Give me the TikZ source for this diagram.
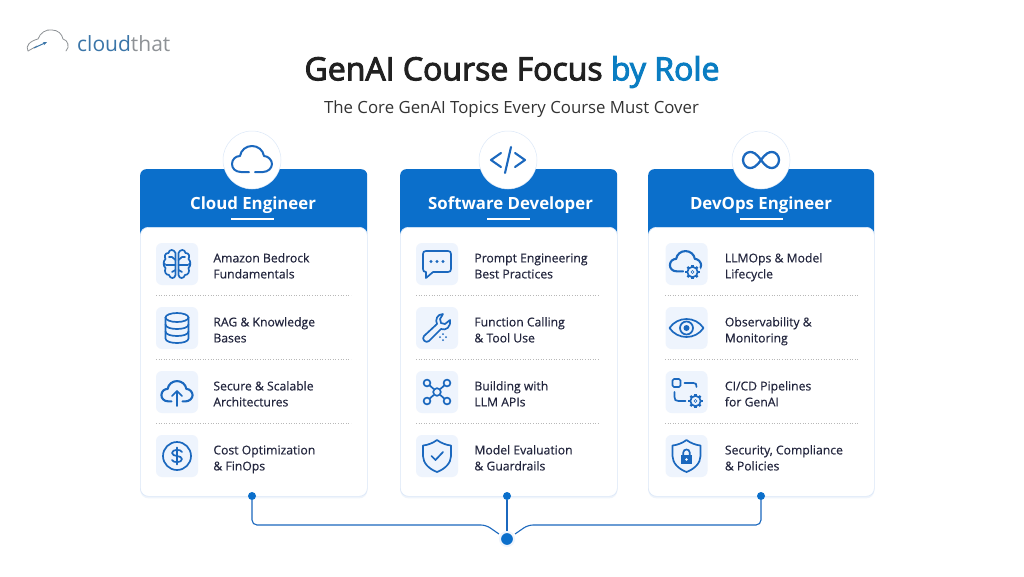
\documentclass[tikz,border=0pt]{standalone}
\usepackage{fontspec}
\usepackage{xcolor}
\usetikzlibrary{positioning,shadows,arrows.meta}
\setmainfont{Open Sans}
\newfontfamily\semifont[FakeBold=3]{Open Sans}
\newfontfamily\medfont[FakeBold=0.4]{Open Sans}

\definecolor{headblue}{HTML}{0B6FCB}
\definecolor{iconblue}{HTML}{1B68BE}
\definecolor{titleblue}{HTML}{0A7DC2}
\definecolor{tilefill}{HTML}{EEF4FD}
\definecolor{inktext}{HTML}{23263E}
\definecolor{cardedge}{HTML}{DCE8F8}
\definecolor{logoblue}{HTML}{3A75A8}
\definecolor{logogray}{HTML}{8E9296}

\newcommand{\cloudpath}[1]{(-#1,12) -- (-11,12) .. controls (-17,12) and (-20,8) .. (-20,4) .. controls (-20,-1) and (-16,-4) .. (-12,-4) .. controls (-11,-10) and (-6,-14) .. (0,-14) .. controls (6,-14) and (11,-10) .. (12,-4) .. controls (16,-4) and (20,0) .. (20,4) .. controls (20,8) and (16,12) .. (11,12) -- (#1,12)}

\tikzset{
  iconline/.style = {draw=iconblue, line width=1.7pt, line cap=round, line join=round},
  cloudicon/.pic = {\draw[iconline, line width=2pt] \cloudpath{3};},
  codeicon/.pic = {
    \draw[iconline, line width=2.1pt] (-7,-7) -- (-17,0) -- (-7,7) (7,-7) -- (17,0) -- (7,7) (3,-13) -- (-3,13);
  },
  loopicon/.pic = {
    \draw[iconline, line width=2.3pt] (0,0) .. controls (-5,-7) and (-8,-8) .. (-11,-8) .. controls (-15,-8) and (-18,-4) .. (-18,0)
      .. controls (-18,4) and (-15,8) .. (-11,8) .. controls (-8,8) and (-5,7) .. (0,0)
      .. controls (5,-7) and (8,-8) .. (11,-8) .. controls (15,-8) and (18,-4) .. (18,0)
      .. controls (18,4) and (15,8) .. (11,8) .. controls (8,8) and (5,7) .. (0,0);
  },
  brainicon/.pic = {
    \foreach \sgn in {-1,1} {
      \begin{scope}[xscale=\sgn]
        \draw[iconline] (1.5,-11) .. controls (3,-15) and (8,-15) .. (8.5,-11) .. controls (12,-11) and (13,-8) .. (11.5,-5)
          .. controls (14,-3) and (14,2) .. (11.5,4) .. controls (13,8) and (11,11) .. (8,11) .. controls (7,15) and (2,15) .. (1.5,11) -- cycle;
        \draw[iconline] (1.5,-4) -- (5,-7) -- (8,-7) (1.5,1) -- (11,1) (1.5,6) -- (5,8);
        \fill[iconblue] (12.5,0) circle (1.5);
      \end{scope}
    }
  },
  dbicon/.pic = {
    \draw[iconline] (0,-10.5) ellipse (11.5 and 4.5);
    \draw[iconline] (-11.5,-10.5) -- (-11.5,10.5) .. controls (-11.5,16.5) and (11.5,16.5) .. (11.5,10.5) -- (11.5,-10.5);
    \draw[iconline] (-11.5,-3.5) .. controls (-11.5,2.5) and (11.5,2.5) .. (11.5,-3.5);
    \draw[iconline] (-11.5,3.5) .. controls (-11.5,9.5) and (11.5,9.5) .. (11.5,3.5);
  },
  uploadicon/.pic = {
    \begin{scope}[scale=.78]
      \draw[iconline, line width=2.1pt] \cloudpath{7};
    \end{scope}
    \draw[iconline] (0,14) -- (0,-1) (-5,4) -- (0,-1) -- (5,4);
  },
  dollaricon/.pic = {
    \draw[iconline] (0,0) circle (14);
    \draw[iconline] (5,-4) .. controls (4,-7) and (-5,-7) .. (-5,-3) .. controls (-5,1) and (5,-1) .. (5,3) .. controls (5,7) and (-4,7) .. (-5,4);
    \draw[iconline] (0,-8.5) -- (0,8.5);
  },
  chaticon/.pic = {
    \draw[iconline] (-11,-13) -- (11,-13) .. controls (13,-13) and (14,-12) .. (14,-10) -- (14,5) .. controls (14,7) and (13,8) .. (11,8)
      -- (-4,8) -- (-11,14) -- (-11,8) .. controls (-13,8) and (-14,7) .. (-14,5) -- (-14,-10) .. controls (-14,-12) and (-13,-13) .. (-11,-13) -- cycle;
    \foreach \dotx in {-6,0,6} { \fill[iconblue] (\dotx,-2.5) circle (1.7); }
  },
  wrenchicon/.pic = {
    \draw[iconline] (6,-14) .. controls (0,-14) and (-2,-8) .. (0,-4) -- (-13,8) .. controls (-16,11) and (-11,16) .. (-8,13)
      -- (4,1) .. controls (9,3) and (14,-1) .. (13,-8) -- (8,-4) -- (4,-5) -- (3,-9) -- cycle;
    \foreach \spx/\spy in {6/6,6/12,3/9,9/9} { \fill[iconblue] (\spx,\spy) circle (1); }
  },
  neticon/.pic = {
    \foreach \spx/\spy in {-10/-9,10/-9,-10/9,10/9} {
      \draw[iconline] (\spx,\spy) circle (3.4);
      \draw[iconline] (\spx*.72,\spy*.72) -- (\spx*.35,\spy*.35);
    }
    \draw[iconline] (0,0) circle (3.8);
  },
  shieldpath/.pic = {
    \draw[iconline] (0,-16) .. controls (-4,-13) and (-9,-11) .. (-14,-10.5) -- (-14,0) .. controls (-14,7) and (-8,13) .. (0,16)
      .. controls (8,13) and (14,7) .. (14,0) -- (14,-10.5) .. controls (9,-11) and (4,-13) .. (0,-16) -- cycle;
  },
  shieldicon/.pic = {
    \pic at (0,0) {shieldpath};
    \draw[iconline] (-5.5,0) -- (-1.5,4) -- (6,-4);
  },
  gearicon/.pic = {
    \fill[tilefill] (0,0) circle (8.5);
    \foreach \ang in {0,45,...,315} { \draw[iconblue, line width=2.4pt] (\ang:4.5) -- (\ang:7.2); }
    \draw[iconline] (0,0) circle (5.2);
    \fill[iconblue] (0,0) circle (1.8);
    \fill[tilefill] (0,0) circle (.8);
  },
  opsicon/.pic = {
    \begin{scope}[xshift=-1pt, yshift=2pt, scale=.78]
      \draw[iconline, line width=2.1pt] \cloudpath{3};
    \end{scope}
    \pic at (6,8) {gearicon};
  },
  eyeicon/.pic = {
    \draw[iconline] (-17,0) .. controls (-9,-12) and (9,-12) .. (17,0) .. controls (9,12) and (-9,12) .. (-17,0) -- cycle;
    \draw[iconline] (0,0) circle (6.5);
    \fill[iconblue] (0,0) circle (3);
  },
  pipeicon/.pic = {
    \draw[iconline, rounded corners=1.5pt] (-14,-13) rectangle (-6,-5);
    \draw[iconline] (-2,-9) -- (7,-9) .. controls (9.5,-9) and (10,-8) .. (10,-5);
    \draw[iconline] (-12,0) -- (-12,5) .. controls (-12,8) and (-11,9) .. (-8,9) -- (-1,9);
    \pic at (9,9) {gearicon};
  },
  lockicon/.pic = {
    \begin{scope}[scale=.93]
      \pic at (0,0) {shieldpath};
    \end{scope}
    \fill[iconblue] (-5.5,-1) rectangle (5.5,8);
    \draw[iconline] (-3.2,-1) -- (-3.2,-3.5) .. controls (-3.2,-7.5) and (3.2,-7.5) .. (3.2,-3.5) -- (3.2,-1);
    \fill[white] (0,3.5) circle (1.4);
  },
}

% one row of a card: name, tile centre, icon, text
\newcommand{\itemrow}[5]{
  \node[tile] (#1) at (#2,#3) {};
  \pic at (#1) {#4};
  \node[itemtext, right=\textgap of #1, yshift=-3.2pt] (#1text) {\strut #5\strut};
}

\begin{document}
\begin{tikzpicture}[
    x=1pt, y=-1pt,
    cardhead/.style = {fill=headblue, rounded corners=6pt, anchor=north west, minimum height=70pt, inner sep=0},
    cardbody/.style = {fill=white, draw=cardedge, line width=.7pt, rounded corners=8pt, anchor=north west, minimum height=269pt, inner sep=0,
      drop shadow={shadow xshift=0pt, shadow yshift=-2pt, fill=cardedge, opacity=.45}},
    badge/.style = {circle, fill=white, draw=cardedge, line width=.5pt, minimum size=58pt, inner sep=0},
    headtext/.style = {text=white, font=\fontsize{16.8}{18}\selectfont\bfseries, inner sep=0},
    headbar/.style = {draw=white, line width=1.2pt},
    tile/.style = {fill=tilefill, rounded corners=6pt, minimum size=42pt, inner sep=0},
    itemtext/.style = {text=inktext, align=left, inner sep=0, font=\fontsize{12.2}{16}\medfont},
    rowline/.style = {draw=black!28, line width=.6pt, dotted},
    enddot/.style = {circle, fill=headblue, minimum size=8pt, inner sep=0},
    hubdot/.style = {circle, fill=headblue, draw=tilefill, line width=2pt, minimum size=14pt, inner sep=0},
    link/.style = {draw=iconblue, line width=1.1pt, rounded corners=5pt},
  ]

  \path[use as bounding box, fill=white!99!tilefill] (0,0) rectangle (1024,576);

  % logo
  \draw[logogray, line width=.8pt, line cap=round] (28,51) .. controls (25,46) and (30,41) .. (38,39)
    .. controls (40,33) and (46,29) .. (52,30) .. controls (58,30) and (62,34) .. (63,39) .. controls (68,40) and (70,47) .. (66,51);
  \draw[logogray, line width=.8pt] (28,51) -- (37,46);
  \draw[logoblue, line width=1pt, -{Stealth[length=4pt]}] (34,48) -- (47,42);
  \node[inner sep=0, anchor=west, font=\fontsize{21}{22}\selectfont] (logo) at (77,44) {\textcolor{logoblue}{cloud}\textcolor{logogray}{that}};

  % title
  \node[inner sep=0, font=\fontsize{32}{34}\semifont, text=black!87] (title) at (512,72) {GenAI Course Focus \textcolor{titleblue}{by Role}};
  \node[inner sep=0, font=\fontsize{16.8}{20}\selectfont, text=black!80] (subtitle) at (511.5,109) {The Core GenAI Topics Every Course Must Cover};

  % cards
  \node[cardhead, minimum width=227pt] (headA) at (140,169) {};
  \node[cardhead, minimum width=217pt] (headB) at (400,169) {};
  \node[cardhead, minimum width=226pt] (headC) at (648,169) {};
  \node[cardbody, minimum width=227pt] (bodyA) at (140,227) {};
  \node[cardbody, minimum width=217pt] (bodyB) at (400,227) {};
  \node[cardbody, minimum width=226pt] (bodyC) at (648,227) {};

  \node[badge] (badgeA) at (252,160) {};
  \node[badge] (badgeB) at (508,160) {};
  \node[badge] (badgeC) at (761,160) {};
  \pic at (badgeA) {cloudicon};
  \pic at (badgeB) {codeicon};
  \pic at (badgeC) {loopicon};

  \node[headtext] (nameA) at (253,205) {Cloud Engineer};
  \node[headtext] (nameB) at (510.5,205) {Software Developer};
  \node[headtext] (nameC) at (761,205) {DevOps Engineer};
  \draw[headbar] (231,219) -- (274,219);
  \draw[headbar] (487,219) -- (530,219);
  \draw[headbar] (740,219) -- (783,219);

  % rows
  \def\textgap{15pt}
  \itemrow{a1}{177}{264}{brainicon}{Amazon Bedrock\\Fundamentals}
  \itemrow{a2}{177}{328}{dbicon}{RAG \& Knowledge\\Bases}
  \itemrow{a3}{177}{392}{uploadicon}{Secure \& Scalable\\Architectures}
  \itemrow{a4}{177}{456}{dollaricon}{Cost Optimization\\\& FinOps}
  \def\textgap{16pt}
  \itemrow{b1}{437}{264}{chaticon}{Prompt Engineering\\Best Practices}
  \itemrow{b2}{437}{328}{wrenchicon}{Function Calling\\\& Tool Use}
  \itemrow{b3}{437}{392}{neticon}{Building with\\LLM APIs}
  \itemrow{b4}{437}{456}{shieldicon}{Model Evaluation\\\& Guardrails}
  \def\textgap{17pt}
  \itemrow{c1}{686.5}{264}{opsicon}{LLMOps \& Model\\Lifecycle}
  \itemrow{c2}{686.5}{328}{eyeicon}{Observability \&\\Monitoring}
  \itemrow{c3}{686.5}{392}{pipeicon}{CI/CD Pipelines\\for GenAI}
  \itemrow{c4}{686.5}{456}{lockicon}{Security, Compliance\\\& Policies}

  \foreach \rowy in {295,359,423} {
    \draw[rowline] (156,\rowy) -- (351,\rowy);
    \draw[rowline] (416,\rowy) -- (600,\rowy);
    \draw[rowline] (665,\rowy) -- (858,\rowy);
  }

  % connector
  \node[enddot] (dotA) at (252,496) {};
  \node[enddot] (dotB) at (507,496) {};
  \node[enddot] (dotC) at (761,496) {};
  \node[hubdot] (hub) at (507,539) {};
  \coordinate (bendA) at (252,525);
  \coordinate (bendC) at (761,525);
  \coordinate (railA) at (486,525);
  \coordinate (railC) at (528,525);
  \coordinate (gapA) at (499,534);
  \coordinate (gapC) at (515,534);
  \draw[link] (dotA) -- (bendA) -- (railA) -- (gapA);
  \draw[link] (dotC) -- (bendC) -- (railC) -- (gapC);
  \draw[link] (dotB) -- (hub);
\end{tikzpicture}
\end{document}
